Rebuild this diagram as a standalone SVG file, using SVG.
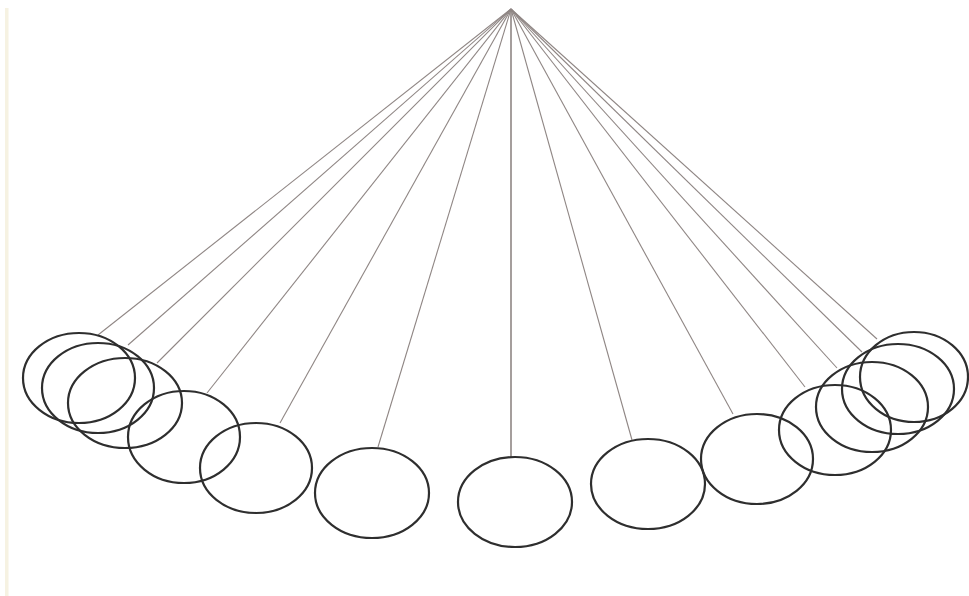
<svg xmlns="http://www.w3.org/2000/svg" width="969" height="596" viewBox="0 0 969 596">
<style>
.s{stroke:#8f8684;stroke-width:1.1;fill:none}
.b{stroke:#2e2e2e;stroke-width:2.2;fill:none}
</style>
<rect width="969" height="596" fill="#ffffff"/>
<rect x="5" y="8" width="3.5" height="588" fill="#f6f2e2"/>
<g id="strings">
<line class="s" x1="511" y1="9" x2="98" y2="335"/>
<line class="s" x1="511" y1="9" x2="128" y2="345"/>
<line class="s" x1="511" y1="9" x2="157" y2="363"/>
<line class="s" x1="511" y1="9" x2="207" y2="393"/>
<line class="s" x1="511" y1="9" x2="280" y2="423"/>
<line class="s" x1="511" y1="9" x2="378" y2="447"/>
<line class="s" x1="511" y1="9" x2="511" y2="457" style="stroke-width:1.6"/>
<line class="s" x1="511" y1="9" x2="632" y2="440"/>
<line class="s" x1="511" y1="9" x2="733" y2="414"/>
<line class="s" x1="511" y1="9" x2="805" y2="387"/>
<line class="s" x1="511" y1="9" x2="837" y2="368"/>
<line class="s" x1="511" y1="9" x2="862" y2="352"/>
<line class="s" x1="511" y1="9" x2="877" y2="339"/>
</g>
<g id="bob1"><ellipse class="b" cx="79" cy="378" rx="56" ry="45"/></g>
<g id="bob2"><ellipse class="b" cx="98" cy="388" rx="56" ry="45"/></g>
<g id="bob3"><ellipse class="b" cx="125" cy="403" rx="57" ry="45"/></g>
<g id="bob4"><ellipse class="b" cx="184" cy="437" rx="56" ry="46"/></g>
<g id="bob5"><ellipse class="b" cx="256" cy="468" rx="56" ry="45"/></g>
<g id="bob6"><ellipse class="b" cx="372" cy="493" rx="57" ry="45"/></g>
<g id="bob7"><ellipse class="b" cx="515" cy="502" rx="57" ry="45"/></g>
<g id="bob8"><ellipse class="b" cx="648" cy="484" rx="57" ry="45"/></g>
<g id="bob9"><ellipse class="b" cx="757" cy="459" rx="56" ry="45"/></g>
<g id="bob10"><ellipse class="b" cx="835" cy="430" rx="56" ry="45"/></g>
<g id="bob11"><ellipse class="b" cx="872" cy="407" rx="56" ry="45"/></g>
<g id="bob12"><ellipse class="b" cx="898" cy="389" rx="56" ry="45"/></g>
<g id="bob13"><ellipse class="b" cx="914" cy="377" rx="54" ry="45"/></g>
</svg>
